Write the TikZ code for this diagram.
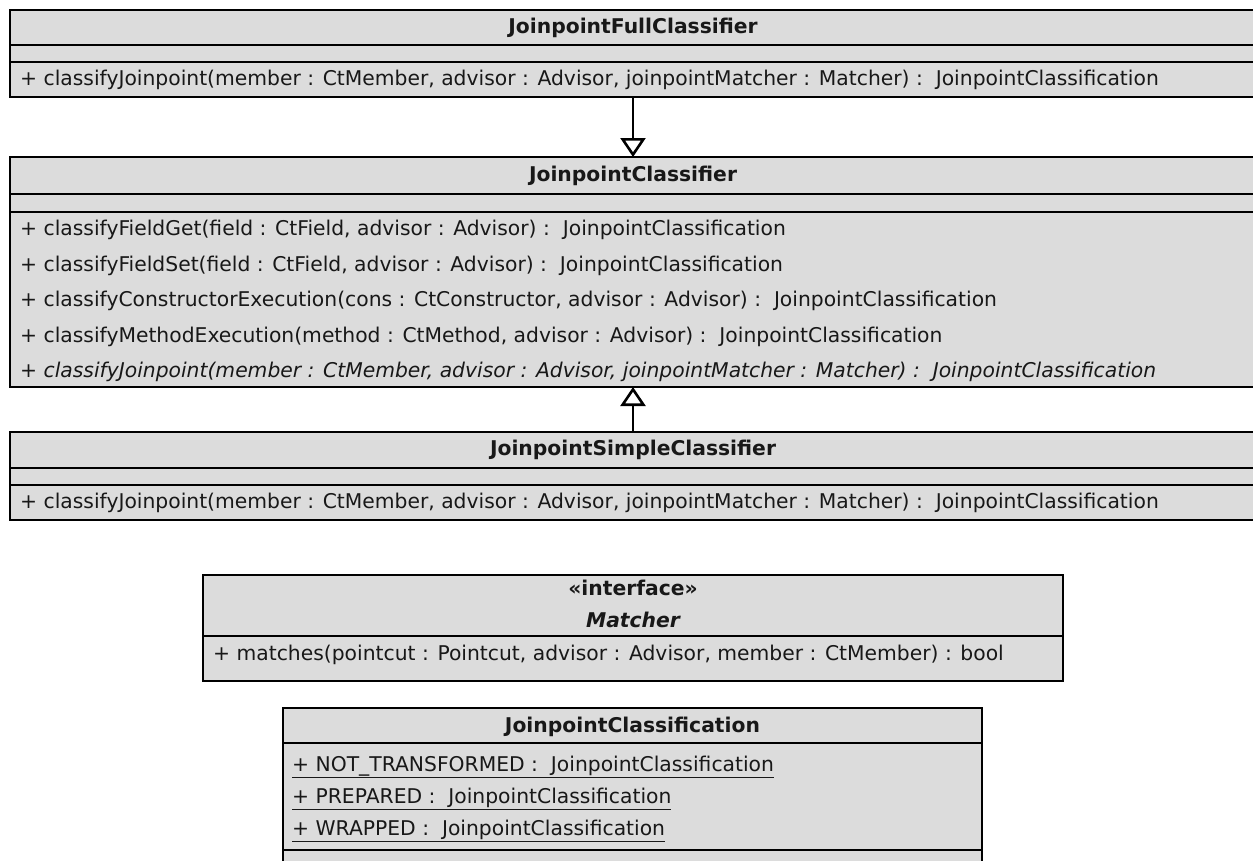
\documentclass[tikz,border=0pt]{standalone}
\usepackage{fontspec}
\setmainfont{DejaVu Sans}
\usetikzlibrary{arrows.meta}
\definecolor{boxfill}{RGB}{220,220,220}
\definecolor{ink}{RGB}{24,24,24}
\newcommand{\umlsize}{\fontsize{20.3}{22}\selectfont}
\begin{document}
\begin{tikzpicture}[x=1pt,y=-1pt,
  classbox/.style={draw=black,fill=boxfill,line width=2.8pt,inner sep=0pt,outer sep=0pt,rectangle},
  sepline/.style={draw=black,line width=2.6pt},
  title/.style={inner sep=0pt,text=ink,font=\umlsize\bfseries},
  member/.style={inner sep=0pt,anchor=west,text=ink,font=\umlsize},
  inherit/.style={draw=black,line width=2.6pt,-{Triangle[open,length=19pt,width=25pt,line width=2.6pt]}}]
\useasboundingbox (0,0) rectangle (1253,860);
\fill[white] (0,0) rectangle (1253,860);
\begin{scope}
\clip (0,0) rectangle (1253,860);

% JoinpointFullClassifier
\node[classbox,minimum width=1246pt,minimum height=87pt] (full) at (633,53.5) {};
\draw[sepline] (10,45) -- (1256,45);
\draw[sepline] (10,62) -- (1256,62);
\node[title] (fullname) at (633,28) {JoinpointFullClassifier};
\node[member] (fullm1) at (20,80) {+ classifyJoinpoint(member : CtMember, advisor : Advisor, joinpointMatcher : Matcher) :\ \ JoinpointClassification};

% JoinpointClassifier
\node[classbox,minimum width=1246pt,minimum height=230pt] (base) at (633,272) {};
\draw[sepline] (10,194) -- (1256,194);
\draw[sepline] (10,212) -- (1256,212);
\node[title] (basename) at (633,176) {JoinpointClassifier};
\node[member] (basem1) at (20,230) {+ classifyFieldGet(field : CtField, advisor : Advisor) :\ \ JoinpointClassification};
\node[member] (basem2) at (20,265.5) {+ classifyFieldSet(field : CtField, advisor : Advisor) :\ \ JoinpointClassification};
\node[member] (basem3) at (20,301) {+ classifyConstructorExecution(cons : CtConstructor, advisor : Advisor) :\ \ JoinpointClassification};
\node[member] (basem4) at (20,336.5) {+ classifyMethodExecution(method : CtMethod, advisor : Advisor) :\ \ JoinpointClassification};
\node[member,font=\umlsize\itshape] (basem5) at (20,372) {+ classifyJoinpoint(member : CtMember, advisor : Advisor, joinpointMatcher : Matcher) :\ \ JoinpointClassification};

% JoinpointSimpleClassifier
\node[classbox,minimum width=1246pt,minimum height=88pt] (simple) at (633,476) {};
\draw[sepline] (10,468) -- (1256,468);
\draw[sepline] (10,485) -- (1256,485);
\node[title] (simplename) at (633,450) {JoinpointSimpleClassifier};
\node[member] (simplem1) at (20,503) {+ classifyJoinpoint(member : CtMember, advisor : Advisor, joinpointMatcher : Matcher) :\ \ JoinpointClassification};
\end{scope}

% Matcher interface
\node[classbox,minimum width=860pt,minimum height=106pt] (matcher) at (633,628) {};
\draw[sepline] (matcher.west |- 0,636) -- (matcher.east |- 0,636);
\node[title] (stereo) at (633,588) {«interface»};
\node[title,font=\umlsize\bfseries\itshape] (matchername) at (633,620) {Matcher};
\node[member] (matcherm1) at (213,655) {+ matches(pointcut : Pointcut, advisor : Advisor, member : CtMember) : bool};

% JoinpointClassification
\begin{scope}
\clip (0,0) rectangle (1253,860);
\node[classbox,minimum width=699pt,minimum height=200pt] (jpclass) at (632.5,808) {};
\draw[sepline] (jpclass.west |- 0,743) -- (jpclass.east |- 0,743);
\draw[sepline] (jpclass.west |- 0,850) -- (jpclass.east |- 0,850);
\node[title] (jpclassname) at (632.5,727) {JoinpointClassification};
\node[member] (jpa1) at (292,767) {\underline{+ NOT\_TRANSFORMED :\ \ JoinpointClassification}};
\node[member] (jpa2) at (292,799) {\underline{+ PREPARED :\ \ JoinpointClassification}};
\node[member] (jpa3) at (292,831) {\underline{+ WRAPPED :\ \ JoinpointClassification}};
\end{scope}

% generalisations
\draw[inherit] (full.south) -- (base.north);
\draw[inherit] (simple.north) -- (base.south);
\end{tikzpicture}
\end{document}
